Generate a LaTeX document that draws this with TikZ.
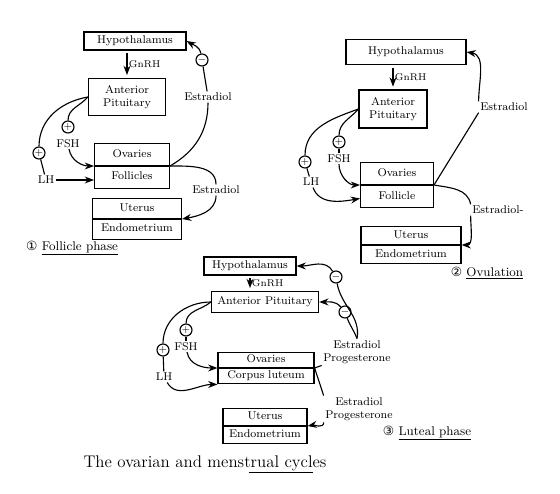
\documentclass[tikz,border=0pt]{standalone}
\usepackage{fontspec}
\newfontfamily\numfont{DejaVu Sans}
\usetikzlibrary{arrows.meta, positioning, shapes.multipart}

\begin{document}
\begin{tikzpicture}[
    x=0.025cm, y=-0.025cm, % 1 unit = 1 px of the sketch
    box/.style={
      rectangle,
      draw,
      thick,
      align=center,
      inner sep=2pt,
      font=\footnotesize
    },
    splitbox/.style={
      rectangle split,
      rectangle split parts=2,
      draw,
      thick,
      align=center,
      inner xsep=2pt,
      font=\footnotesize
    },
    sign/.style={
      circle,
      draw,
      thick,
      inner sep=0pt,
      minimum size=0.3cm,
      font=\scriptsize
    },
    lbl/.style={inner sep=1pt, font=\footnotesize},
    phase/.style={inner sep=1pt, font=\small},
    line/.style={thick},
    arrow/.style={
      -Stealth,
      thick
    }
  ]
  \useasboundingbox (0,0) rectangle (560,494);

  % 1 - Follicle phase
  \node[box, minimum width=2.55cm, minimum height=0.45cm] (hyp1) at (135,41) {Hypothalamus};
  \node[box, minimum width=1.93cm, minimum height=0.93cm] (ap1) at (127,97) {Anterior\\Pituitary};
  \node[splitbox, text width=1.73cm, inner ysep=2.9pt] (ov1) at (132,166) {\strut Ovaries \nodepart{two} \strut Follicles};
  \node[splitbox, text width=2.08cm, inner ysep=2pt] (ut1) at (137,219) {\strut Uterus \nodepart{two} \strut Endometrium};
  \node[sign] (p1a) at (68,127) {+};
  \node[lbl, below=0.1cm of p1a] (fsh1) {FSH};
  \node[sign] (p1b) at (39,153) {+};
  \node[lbl] (lh1) at (46,180) {LH};
  \node[sign] (m1) at (202,60) {$-$};
  \node[lbl] (est1a) at (208,97) {Estradiol};
  \node[lbl] (est1b) at (216,190) {Estradiol};
  \node[phase] (phase1) at (72,248) {{\numfont ①} \underline{Follicle phase}};

  \draw[arrow, shorten <=2pt, shorten >=2pt] (ap1.north |- hyp1.south) -- node[lbl, right, font=\scriptsize] {GnRH} (ap1.north);
  \draw[line] (ap1.west) to[out=190, in=90] (p1b);
  \draw[line] (p1b) -- (lh1);
  \draw[arrow] (lh1) -- (lh1 -| ov1.west);
  \draw[line] (ap1.west) to[out=230, in=90] (p1a);
  \draw[arrow] (fsh1) to[out=-80, in=180] (ov1.west);
  \draw[line] (ov1.east) to[out=30, in=-90] (est1a);
  \draw[line] (est1a) -- (m1);
  \draw[arrow] (m1) to[out=100, in=-30] (hyp1.east);
  \draw[line] (ov1.east) to[out=0, in=90] (est1b.north);
  \draw[arrow] (est1b.south) to[out=-90, in=10] (ut1.east);

  % 2 - Ovulation
  \node[box, minimum width=3cm, minimum height=0.63cm] (hyp2) at (406,52) {Hypothalamus};
  \node[box, minimum width=1.7cm, minimum height=0.95cm] (ap2) at (393,109) {Anterior\\Pituitary};
  \node[splitbox, text width=1.68cm, inner ysep=3pt] (ov2) at (397,185) {\strut Ovaries \nodepart{two} \strut Follicle};
  \node[splitbox, text width=2.36cm, inner ysep=1.5pt] (ut2) at (411,245) {\strut Uterus \nodepart{two} \strut Endometrium};
  \node[sign] (p2a) at (339,142) {+};
  \node[lbl, below=0.1cm of p2a] (fsh2) {FSH};
  \node[sign] (p2b) at (305,162) {+};
  \node[lbl] (lh2) at (311,182) {LH};
  \node[lbl] (est2a) at (504,107) {Estradiol};
  \node[lbl] (est2b) at (498,210) {Estradiol-};
  \node[phase] (phase2) at (487,273) {{\numfont ②} \underline{Ovulation}};

  \draw[arrow, shorten <=2pt, shorten >=2pt] (ap2.north |- hyp2.south) -- node[lbl, right, font=\scriptsize] {GnRH} (ap2.north);
  \draw[line] (ap2.west) to[out=200, in=90] (p2b);
  \draw[line] (p2b) -- (lh2);
  \draw[arrow] (lh2) to[out=-70, in=190] (ov2.200);
  \draw[line] (ap2.west) to[out=230, in=90] (p2a);
  \draw[line] (p2a) -- (fsh2);
  \draw[arrow] (fsh2) to[out=-90, in=180] (ov2.west);
  \draw[line] (ov2.east) -- (est2a.south west);
  \draw[arrow] (est2a.north west) to[out=90, in=-10] (hyp2.east);
  \draw[line] (ov2.east) to[out=-10, in=100] (est2b.north west);
  \draw[arrow] (est2b.south west) to[out=-90, in=0] (ut2.east);

  % 3 - Luteal phase
  \node[box, minimum width=2.3cm, minimum height=0.45cm] (hyp3) at (250,266) {Hypothalamus};
  \node[box, minimum width=2.68cm, minimum height=0.53cm] (ap3) at (265,302) {Anterior Pituitary};
  \node[splitbox, text width=2.26cm, inner ysep=0.5pt] (ov3) at (266,368) {\strut Ovaries \nodepart{two} \strut Corpus luteum};
  \node[splitbox, text width=1.96cm, inner ysep=1.1pt] (ut3) at (265,426) {\strut Uterus \nodepart{two} \strut Endometrium};
  \node[sign] (p3a) at (186,330) {+};
  \node[lbl, below=0.1cm of p3a] (fsh3) {FSH};
  \node[sign] (p3b) at (163,350) {+};
  \node[lbl] (lh3) at (164,377) {LH};
  \node[sign] (m3a) at (336,277) {$-$};
  \node[sign] (m3b) at (345,312) {$-$};
  \node[lbl, align=center] (est3a) at (357,352) {Estradiol\\Progesterone};
  \node[lbl, align=center] (est3b) at (359,409) {Estradiol\\Progesterone};
  \node[phase] (phase3) at (427,433) {{\numfont ③} \underline{Luteal phase}};

  \draw[arrow, shorten <=2pt, shorten >=2pt] (hyp3.south) -- node[lbl, right, font=\scriptsize] {GnRH} (hyp3.south |- ap3.north);
  \draw[line] (ap3.west) to[out=180, in=90] (p3b);
  \draw[line] (p3b) -- (lh3);
  \draw[arrow] (lh3) to[out=-60, in=180] (ov3.south west);
  \draw[line] (ap3.west) to[out=220, in=90] (p3a);
  \draw[line] (p3a) -- (fsh3);
  \draw[arrow] (fsh3) to[out=-80, in=180] (ov3.west);
  \draw[line] (est3a.north) to[out=80, in=-80] (m3a);
  \draw[arrow] (m3a) to[out=120, in=0] (hyp3.east);
  \draw[line] (est3a.north) to[out=110, in=-70] (m3b);
  \draw[arrow] (m3b) to[out=130, in=0] (ap3.east);
  \draw[line] (ov3.east) -- (est3a.south west);
  \draw[line] (ov3.east) -- (est3b.north west);
  \draw[arrow] (est3b.south west) to[out=-90, in=10] (ut3.east);

  % Title
  \node[inner sep=1pt, font=\large] (title) at (205,463) {The ovarian and menstrual cycles};
  \draw[line] ([xshift=1.1cm]title.south) -- ([xshift=2.7cm]title.south);

\end{tikzpicture}
\end{document}
